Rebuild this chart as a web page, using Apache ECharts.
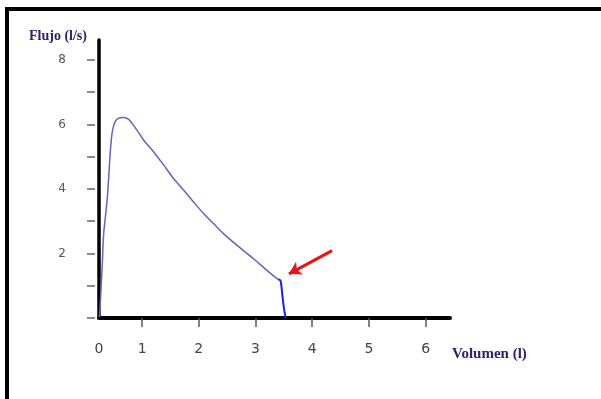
<!DOCTYPE html>
<html>
<head>
<meta charset="utf-8">
<script src="https://cdn.jsdelivr.net/npm/echarts@6/dist/echarts.min.js"></script>
<style>
  html,body{margin:0;padding:0;background:#fff;}
  #main{width:601px;height:399px;}
</style>
</head>
<body>
<div id="main"></div>
<script>
// 曲线数据（体积 l，流量 l/s）
let curveVol  = [0.247,0.265,0.295,0.323,0.383,0.411,0.441,0.471,0.512,0.577,0.676,0.764,0.83,0.912,1.029,1.205,1.382,1.558,1.735,1.911,2.088,2.264,2.440,2.677,2.970,3.206,3.353,3.40];
let curveFlow = [0.02, 0.54, 1.57, 2.62, 3.65, 4.37, 5.20, 5.73, 6.04, 6.19, 6.22, 6.16, 6.02,5.82, 5.51, 5.15, 4.74, 4.32, 3.96, 3.59, 3.23, 2.92, 2.61, 2.25, 1.83, 1.47, 1.26, 1.20];
// 末段（亮蓝色）
let tailVol  = [3.40,3.441,3.471,3.499,3.524,3.530];
let tailFlow = [1.20,1.16, 0.75, 0.33, 0.07, 0];
// 箭头（起点 -> 终点）
let arrowFrom = [4.35, 2.09];
let arrowTo   = [3.59, 1.37];
// 刻度
let xTicks = [1,2,3,4,5,6];
let xLabels = [0,1,2,3,4,5,6];
let yTicks = [0,1,2,3,4,5,6,7,8];
let yLabels = [2,4,6,8];
let xMin = 0.24, xMax = 6.43, yMax = 8.62;

let chart = echarts.init(document.getElementById('main'));

function pairs(a, b){
  return a.map(function(v, i){ return [v, b[i]]; });
}

let option = {
  animation:false,
  title:[{
    text:'Flujo (l/s)',
    left:24, top:24,
    textStyle:{fontFamily:'Liberation Serif', fontWeight:'bold', fontSize:14, color:'#26266e'}
  },{
    text:'Volumen (l)',
    left:447, top:342,
    textStyle:{fontFamily:'Liberation Serif', fontWeight:'bold', fontSize:15, color:'#26266e'}
  }],
  grid:{left:99, right:151, top:40, bottom:81},
  xAxis:[{
    type:'value', min:xMin, max:xMax,
    axisLine:{lineStyle:{color:'#000', width:4}},
    axisTick:{show:false}, axisLabel:{show:false}, splitLine:{show:false}
  },{
    type:'value', min:xMin, max:xMax, position:'bottom', offset:4,
    axisLine:{show:false},
    axisTick:{show:true, length:9, customValues:xTicks, lineStyle:{color:'#555', width:1.5}},
    axisLabel:{
      margin:20, fontSize:14, color:'#444', fontFamily:'DejaVu Sans',
      customValues:xLabels.map(function(v){ return v === 0 ? xMin : v; }),
      formatter:function(v){ return v < 0.5 ? '0' : String(Math.round(v)); }
    },
    splitLine:{show:false}
  }],
  yAxis:[{
    type:'value', min:0, max:yMax,
    axisLine:{show:true, lineStyle:{color:'#000', width:3.5}},
    axisTick:{show:false}, axisLabel:{show:false}, splitLine:{show:false}
  },{
    type:'value', min:0, max:yMax, position:'left', offset:4,
    axisLine:{show:false},
    axisTick:{show:true, length:8, customValues:yTicks, lineStyle:{color:'#666', width:1.5}},
    axisLabel:{margin:29, fontSize:12, color:'#555', fontFamily:'DejaVu Sans', customValues:yLabels},
    splitLine:{show:false}
  }],
  series:[{
    type:'line',
    data:pairs(curveVol, curveFlow),
    showSymbol:false,
    smooth:0.25,
    lineStyle:{color:'#6464c0', width:1.5},
    markLine:{
      silent:true,
      symbol:['none','arrow'],
      symbolSize:[11,12],
      label:{show:false},
      lineStyle:{color:'#ee1111', width:3, type:'solid'},
      data:[[{coord:arrowFrom},{coord:arrowTo}]]
    }
  },{
    type:'line',
    data:pairs(tailVol, tailFlow),
    showSymbol:false,
    smooth:0.25,
    lineStyle:{color:'#1e1ee6', width:2}
  }],
  graphic:[
    {type:'line', shape:{x1:5, y1:9, x2:601, y2:9}, style:{stroke:'#000', lineWidth:4}},
    {type:'line', shape:{x1:7, y1:7, x2:7, y2:399}, style:{stroke:'#000', lineWidth:4}}
  ]
};

chart.setOption(option);
</script>
</body>
</html>
